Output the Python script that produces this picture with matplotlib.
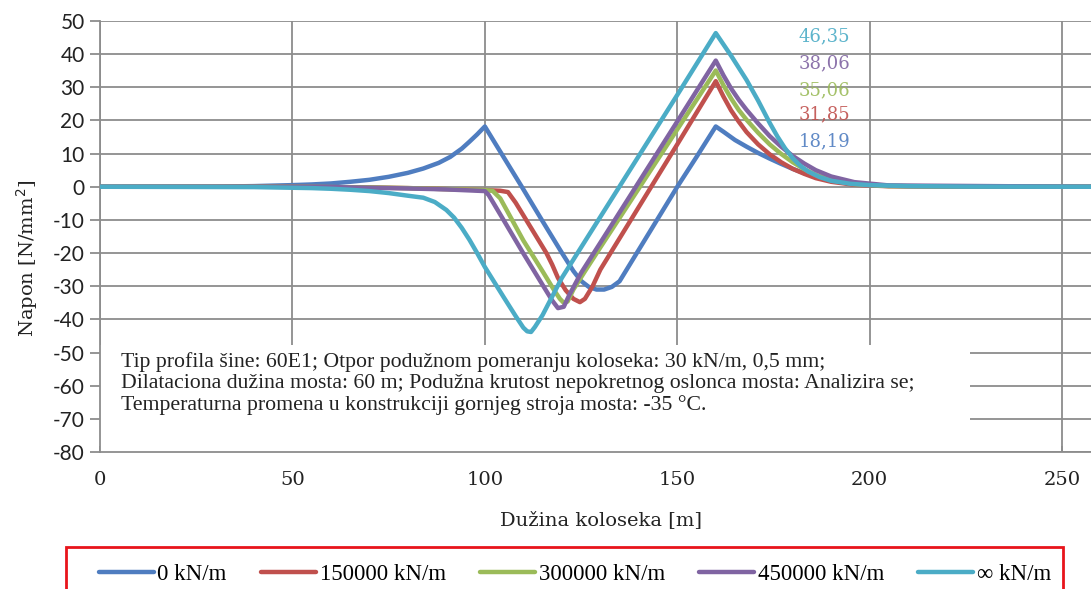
import matplotlib
matplotlib.use("Agg")
import matplotlib.pyplot as plt
from matplotlib.patches import Rectangle

plt.rcParams["axes.unicode_minus"] = False

# series (x in m, stress in N/mm2)
x_0 = [0, 30, 40, 50, 55, 60, 65, 70, 75, 80, 84, 88, 91, 94, 96, 98, 100, 104, 109.6, 115, 120, 123,
       125, 127, 129, 131, 133, 135, 140, 150, 155, 160, 162, 165, 168, 171, 174, 177, 180, 183, 186,
       190, 194, 200, 210, 220, 257.5]
y_0 = [0, 0.05, 0.2, 0.5, 0.7, 1.0, 1.5, 2.1, 3.0, 4.2, 5.5, 7.2, 9.0, 11.5, 13.6, 15.8, 18.19, 10.6, 0,
       -10.4, -19.9, -25.4, -28.4, -30.2, -31.0, -31.0, -30.2, -28.5, -19, 0, 9, 18.19, 16.6, 14.1, 12.1,
       10.2, 8.5, 6.9, 5.4, 4.1, 3.0, 1.9, 1.1, 0.5, 0.15, 0, 0]

x_150 = [0, 50, 60, 70, 80, 90, 100, 104, 106, 108, 112, 116, 117.5, 119, 121, 123, 124.7, 126, 128,
         130, 140, 150, 160, 162, 164, 166, 168, 171, 174, 177, 180, 183, 186, 190, 196, 205, 257.5]
y_150 = [0, 0, -0.1, -0.2, -0.4, -0.7, -1.0, -1.2, -1.6, -4.8, -12.4, -20, -23.5, -27.5, -31.2, -33.8,
         -34.8, -33.8, -30.0, -25.0, -6.1, 12.8, 31.85, 27.2, 23.0, 19.6, 16.5, 12.8, 9.8, 7.4, 5.4, 3.9,
         2.6, 1.5, 0.6, 0.15, 0]

x_300 = [0, 50, 60, 70, 80, 90, 100, 102, 104, 110, 115, 118, 119.5, 120.5, 121.5, 123, 126, 130, 140,
         150, 160, 162, 164, 166, 168, 171, 174, 177, 180, 183, 186, 190, 196, 205, 257.5]
y_300 = [0, 0, -0.1, -0.2, -0.4, -0.7, -1.0, -1.2, -3.5, -16.2, -25.5, -31.2, -33.8, -35.0, -34.6, -31.0,
         -25.5, -18.3, -0.5, 17.3, 35.06, 30.6, 26.6, 23.1, 20.2, 16.3, 12.8, 9.9, 7.4, 5.3, 3.6, 2.0,
         0.8, 0.2, 0]

x_450 = [0, 50, 60, 70, 80, 90, 100, 101, 105, 110, 115, 117.5, 119, 120.5, 122, 125, 130, 140, 150,
         160, 162, 164, 166, 168, 171, 174, 177, 180, 183, 186, 190, 196, 205, 257.5]
y_450 = [0, 0, -0.1, -0.3, -0.5, -0.8, -1.3, -2.5, -10.3, -20.1, -29.6, -34.3, -36.6, -36.2, -32.5, -26.0,
         -16.9, 1.4, 19.7, 38.06, 33.6, 29.6, 26.2, 23.2, 19.1, 15.3, 12.1, 9.3, 7.0, 5.0, 3.1, 1.4,
         0.4, 0]

x_inf = [0, 40, 50, 55, 60, 65, 70, 75, 80, 84, 87, 90, 92, 94, 96, 98, 100, 105, 108, 110, 111, 112,
         113, 115, 120, 130, 140, 150, 160, 164, 168, 171, 174, 176, 178, 180, 182, 184, 187, 190, 195,
         200, 210, 225, 257.5]
y_inf = [0, -0.1, -0.3, -0.4, -0.6, -0.9, -1.3, -1.9, -2.7, -3.3, -4.6, -7.0, -9.3, -12.4, -16.0, -20.0,
         -24.2, -33.5, -39, -42.5, -43.6, -43.8, -42.3, -38.7, -27.5, -9.1, 9.3, 27.7, 46.35, 39.5, 32.2,
         26.0, 19.3, 15.2, 11.6, 8.6, 6.3, 4.6, 2.9, 1.8, 0.9, 0.5, 0.2, 0.05, 0]

labels = ["0 kN/m", "150000 kN/m", "300000 kN/m", "450000 kN/m", "\u221e kN/m"]
colors = ["#4F7DC0", "#C0504D", "#9BBB59", "#8064A2", "#4BACC6"]
peaks = ["18,19", "31,85", "35,06", "38,06", "46,35"]
peak_y = [13.6, 21.7, 29.2, 37.2, 45.3]

note = ("Tip profila \u0161ine: 60E1; Otpor podu\u017enom pomeranju koloseka: 30 kN/m, 0,5 mm;\n"
        "Dilataciona du\u017eina mosta: 60 m; Podu\u017ena krutost nepokretnog oslonca mosta: Analizira se;\n"
        "Temperaturna promena u konstrukciji gornjeg stroja mosta: -35 \u00b0C.")

W, H = 1091, 589
fig = plt.figure(figsize=(W / 100, H / 100), dpi=100)
ax = fig.add_axes([100 / W, 1 - 452 / H, (W - 100) / W, 431 / H])

grid_c = "#8c8c8c"
ax.set_xlim(0, 257.5)
ax.set_ylim(-80, 50)
ax.set_xticks(range(0, 251, 50))
ax.set_yticks(range(-80, 51, 10))
ax.set_axisbelow(True)
ax.grid(True, color=grid_c, linewidth=1.3)
for s in ["top", "right"]:
    ax.spines[s].set_visible(False)
for s in ["left", "bottom"]:
    ax.spines[s].set_color(grid_c)
    ax.spines[s].set_linewidth(1.3)
ax.tick_params(axis="y", direction="out", length=7, color=grid_c, width=1.3, pad=4)
ax.tick_params(axis="x", direction="in", length=4, color=grid_c, width=1.3, pad=14)
for t in ax.get_yticklabels():
    t.set_fontfamily("Lato")
    t.set_fontsize(15)
    t.set_color("#222222")
for t in ax.get_xticklabels():
    t.set_fontfamily("DejaVu Serif")
    t.set_fontsize(14)
    t.set_color("#222222")

series = [(x_0, y_0), (x_150, y_150), (x_300, y_300), (x_450, y_450), (x_inf, y_inf)]
handles = []
for (xs, ys), c, lab in zip(series, colors, labels):
    h, = ax.plot(xs, ys, color=c, linewidth=3.2, label=lab, zorder=3,
                 solid_joinstyle="round", solid_capstyle="round")
    handles.append(h)

for txt, yy, c in zip(peaks, peak_y, colors):
    ax.text(195, yy, txt, color=c, ha="right", va="center", fontsize=13,
            family="DejaVu Serif", alpha=0.9)

# white note box hides the lower grid
ax.add_patch(Rectangle((0, -80), 226, 32.4, facecolor="white", edgecolor="none", zorder=1))
ax.text(5.5, -59.3, note, ha="left", va="center", fontsize=15.7, family="Liberation Serif",
        linespacing=1.12, color="#222222", zorder=4)

fig.text(27 / W, 1 - 258 / H, "Napon [N/mm$^2$]", rotation=90, ha="center", va="center",
         fontsize=14, family="DejaVu Serif", color="#222222")
fig.text(601 / W, 1 - 520 / H, "Du\u017eina koloseka [m]", ha="center", va="center",
         fontsize=14, family="DejaVu Serif", color="#222222")

fig.patches.append(Rectangle((66 / W, -0.05), 997 / W, 1 - 547 / H + 0.05,
                             transform=fig.transFigure, fill=False, edgecolor="#e8141b", linewidth=2))
fig.legend(handles, labels, loc="center", bbox_to_anchor=(575 / W, 1 - 574 / H), ncol=5,
           frameon=False, handlelength=2.4, handletextpad=0.15, columnspacing=1.5,
           prop={"family": "Liberation Serif", "size": 16.5})

fig.savefig("out.png", dpi=100)
